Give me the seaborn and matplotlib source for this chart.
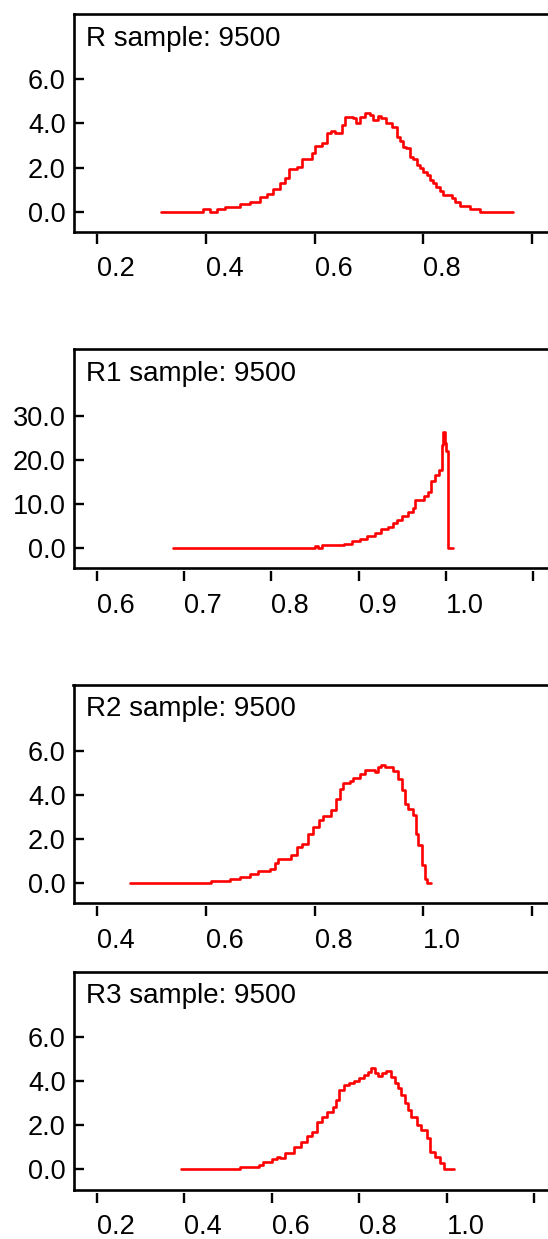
import matplotlib
matplotlib.use("Agg")
import matplotlib.pyplot as plt
import seaborn as sns
import pandas as pd

# ---------------- data ----------------
titles = ["R sample: 9500", "R1 sample: 9500", "R2 sample: 9500", "R3 sample: 9500"]

x_R = [0.317, 0.395, 0.407, 0.420, 0.435, 0.463, 0.481, 0.500, 0.512, 0.524,
       0.536, 0.546, 0.552, 0.567, 0.576, 0.595, 0.601, 0.613, 0.622, 0.631,
       0.637, 0.650, 0.656, 0.671, 0.677, 0.683, 0.693, 0.702, 0.708, 0.717,
       0.723, 0.732, 0.742, 0.751, 0.757, 0.763, 0.769, 0.775, 0.782, 0.788,
       0.794, 0.800, 0.806, 0.812, 0.818, 0.824, 0.831, 0.837, 0.852, 0.858,
       0.867, 0.886, 0.904, 0.965]
y_R = [0, 0.13, 0, 0.14, 0.23, 0.35, 0.45, 0.65, 0.79, 1.01,
       1.28, 1.55, 1.93, 2.04, 2.40, 2.64, 2.98, 3.10, 3.55, 3.67,
       3.58, 3.93, 4.27, 4.23, 4.03, 4.30, 4.49, 4.38, 4.15, 4.34,
       4.23, 4.03, 3.85, 3.40, 3.20, 2.95, 2.90, 2.49, 2.40, 2.11,
       2.00, 1.81, 1.65, 1.44, 1.30, 1.10, 0.95, 0.76, 0.60, 0.45,
       0.26, 0.14, 0, 0]

x_R1 = [0.687, 0.850, 0.853, 0.858, 0.883, 0.8925, 0.902, 0.910, 0.919, 0.925,
        0.933, 0.939, 0.944, 0.950, 0.956, 0.962, 0.965, 0.975, 0.979, 0.983,
        0.987, 0.992, 0.995, 0.997, 0.999, 1.0005, 1.002, 1.008]
y_R1 = [0, 0.5, 0.1, 0.6, 0.98, 1.59, 2.1, 2.8, 3.4, 4.2,
        4.8, 5.7, 6.4, 7.2, 8.2, 9.1, 10.8, 11.7, 12.7, 15.3,
        16.5, 17.8, 23.4, 26.2, 23.8, 21.9, 0, 0]

x_R2 = [0.460, 0.610, 0.644, 0.662, 0.681, 0.696, 0.717, 0.727, 0.733, 0.757,
        0.767, 0.776, 0.788, 0.797, 0.809, 0.816, 0.831, 0.840, 0.846, 0.852,
        0.865, 0.871, 0.883, 0.892, 0.911, 0.917, 0.923, 0.929, 0.944, 0.954,
        0.960, 0.966, 0.972, 0.981, 0.987, 0.990, 0.997, 1.003, 1.006, 1.015]
y_R2 = [0, 0.08, 0.18, 0.29, 0.39, 0.53, 0.65, 0.92, 1.11, 1.29,
        1.64, 1.79, 2.24, 2.55, 2.85, 3.05, 3.30, 3.83, 4.29, 4.56,
        4.65, 4.79, 4.97, 5.12, 5.05, 5.27, 5.38, 5.27, 5.08, 4.74,
        4.21, 3.61, 3.38, 3.08, 2.24, 1.71, 0.80, 0.20, 0, 0]

x_R3 = [0.393, 0.527, 0.570, 0.581, 0.600, 0.612, 0.620, 0.631, 0.650, 0.666,
        0.681, 0.693, 0.704, 0.716, 0.727, 0.739, 0.746, 0.754, 0.766, 0.777,
        0.789, 0.800, 0.812, 0.819, 0.827, 0.835, 0.842, 0.852, 0.862, 0.873,
        0.881, 0.888, 0.896, 0.904, 0.911, 0.919, 0.931, 0.942, 0.954, 0.961,
        0.973, 0.984, 0.993, 1.016]
y_R3 = [0, 0.11, 0.21, 0.33, 0.45, 0.55, 0.50, 0.76, 1.03, 1.26,
        1.52, 1.71, 2.17, 2.39, 2.62, 2.85, 3.15, 3.61, 3.83, 3.94,
        4.03, 4.14, 4.29, 4.44, 4.59, 4.36, 4.24, 4.36, 4.48, 4.21,
        3.91, 3.68, 3.38, 3.00, 2.70, 2.39, 2.02, 1.79, 1.41, 0.80,
        0.58, 0.30, 0, 0]

xticks_R = [0.2, 0.4, 0.6, 0.8, 1.0]
xlabels_R = ["0.2", "0.4", "0.6", "0.8", ""]
xticks_R1 = [0.6, 0.7, 0.8, 0.9, 1.0, 1.1]
xlabels_R1 = ["0.6", "0.7", "0.8", "0.9", "1.0", ""]
xticks_R2 = [0.4, 0.6, 0.8, 1.0, 1.2]
xlabels_R2 = ["0.4", "0.6", "0.8", "1.0", ""]
xticks_R3 = [0.2, 0.4, 0.6, 0.8, 1.0, 1.2]
xlabels_R3 = ["0.2", "0.4", "0.6", "0.8", "1.0", ""]

yticks_small = [0.0, 2.0, 4.0, 6.0]
ylabels_small = ["0.0", "2.0", "4.0", "6.0"]
yticks_big = [0.0, 10.0, 20.0, 30.0]
ylabels_big = ["0.0", "10.0", "20.0", "30.0"]

# ---------------- style ----------------
sns.set_theme(style="ticks")
plt.rcParams["font.family"] = ["Liberation Sans", "DejaVu Sans"]

W, H = 548, 1239
fig = plt.figure(figsize=(W / 100, H / 100), dpi=100)
fig.patch.set_facecolor("white")

left_px, right_px = 73.5, 560.0
panels = [
    dict(x=x_R, y=y_R, title=titles[0], top=14.0, bot=231.7,
         xlim=(0.1562, 1.0517), ylim=(-0.906, 8.96),
         xt=xticks_R, xl=xlabels_R, yt=yticks_small, yl=ylabels_small),
    dict(x=x_R1, y=y_R1, title=titles[1], top=349.3, bot=568.3,
         xlim=(0.5731, 1.1307), ylim=(-4.6, 45.06),
         xt=xticks_R1, xl=xlabels_R1, yt=yticks_big, yl=ylabels_big),
    dict(x=x_R2, y=y_R2, title=titles[2], top=685.0, bot=903.3,
         xlim=(0.3562, 1.2517), ylim=(-0.92, 9.0),
         xt=xticks_R2, xl=xlabels_R2, yt=yticks_small, yl=ylabels_small),
    dict(x=x_R3, y=y_R3, title=titles[3], top=971.7, bot=1190.0,
         xlim=(0.147, 1.259), ylim=(-0.94, 8.98),
         xt=xticks_R3, xl=xlabels_R3, yt=yticks_small, yl=ylabels_small),
]

FS_TICK = 19.5
FS_TITLE = 20
LW_FRAME = 1.9
for p in panels:
    ax = fig.add_axes([left_px / W, 1 - p["bot"] / H,
                       (right_px - left_px) / W, (p["bot"] - p["top"]) / H])
    ax.set_facecolor("white")
    df = pd.DataFrame({"x": p["x"], "y": p["y"]})
    sns.lineplot(data=df, x="x", y="y", ax=ax, color="#ff0000", lw=1.9,
                 drawstyle="steps-post", estimator=None, sort=False)
    ax.set_xlim(*p["xlim"])
    ax.set_ylim(*p["ylim"])
    ax.set_xlabel("")
    ax.set_ylabel("")

    for side in ["left", "top"]:
        ax.spines[side].set_linewidth(LW_FRAME)
        ax.spines[side].set_color("black")
    ax.spines["right"].set_visible(False)
    # x ticks hang slightly below the frame, detached from it
    ax.spines["bottom"].set_position(("outward", 2.0))
    ax.spines["bottom"].set_visible(False)
    ax.plot([0, 1], [0, 0], transform=ax.transAxes, color="black", lw=LW_FRAME,
            clip_on=False, solid_capstyle="projecting")

    ax.set_xticks(p["xt"], p["xl"])
    ax.set_yticks(p["yt"], p["yl"])
    ax.tick_params(axis="x", direction="out", length=7.5, width=1.7,
                   color="black", labelsize=FS_TICK, pad=8.0, labelcolor="black")
    ax.tick_params(axis="y", direction="in", length=7, width=1.7,
                   color="black", labelsize=FS_TICK, pad=5.5, labelcolor="black")
    for lbl in ax.get_xticklabels():
        lbl.set_horizontalalignment("left")

    ax.annotate(p["title"], xy=(0, 1), xycoords="axes fraction",
                xytext=(12.5, -31.5), textcoords="offset pixels",
                ha="left", va="baseline", fontsize=FS_TITLE, color="black")

fig.savefig("out.png", dpi=100, facecolor="white")
